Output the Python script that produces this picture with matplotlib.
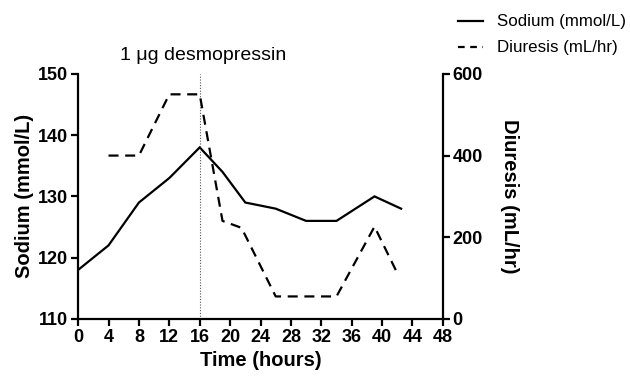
import matplotlib
matplotlib.use("Agg")
import matplotlib.pyplot as plt
from matplotlib.lines import Line2D

plt.rcParams['font.family'] = ['Liberation Sans', 'DejaVu Sans']

# sodium (mmol/L) over time (hours)
sodium_t = [0, 4, 8, 12, 16, 19, 22, 26, 30, 34, 39, 42.5]
sodium = [118, 122, 129, 133, 138, 134, 129, 128, 126, 126, 130, 128]

# diuresis (mL/hr) over time (hours)
diur_t = [4, 8, 12, 16, 19, 21.5, 26, 34, 39, 42]
diuresis = [400, 400, 550, 550, 240, 223, 55, 55, 226, 112]

x_ticks = list(range(0, 49, 4))
na_ticks = [110, 120, 130, 140, 150]
diur_ticks = [0, 200, 400, 600]
desmo_time = 16

fig = plt.figure(figsize=(6.3, 3.81), dpi=100)
ax = fig.add_axes([0.124, 0.163, 0.579, 0.643])
ax2 = ax.twinx()

ax.plot(sodium_t, sodium, color='black', lw=1.6, solid_joinstyle='miter')
ax2.plot(diur_t, diuresis, color='black', lw=1.6, dashes=(4.5, 3))
ax.axvline(desmo_time, color='#555555', lw=0.8, ls=(0, (1, 1.5)))

ax.set_xlim(0, 48)
ax.set_ylim(110, 150)
ax2.set_ylim(0, 600)
ax.set_xticks(x_ticks)
ax.set_yticks(na_ticks)
ax2.set_yticks(diur_ticks)

for a in (ax, ax2):
    a.spines['top'].set_visible(False)
    for s in ('left', 'right', 'bottom'):
        a.spines[s].set_linewidth(1.6)
    a.tick_params(width=1.6, length=5, labelsize=13, pad=2)
    for lab in a.get_xticklabels() + a.get_yticklabels():
        lab.set_fontweight('bold')
ax.spines['right'].set_visible(False)
ax2.spines['left'].set_visible(False)
ax2.spines['bottom'].set_visible(False)

ax.set_xlabel('Time (hours)', fontsize=14.5, fontweight='bold', labelpad=4)
ax.set_ylabel('Sodium (mmol/L)', fontsize=14.5, fontweight='bold', labelpad=3)
ax2.set_ylabel('Diuresis (mL/hr)', fontsize=14.5, fontweight='bold',
               rotation=270, labelpad=26)

ax.text(16.4, 152.3, '1 \u03bcg desmopressin', ha='center', va='baseline',
        fontsize=14)

handles = [Line2D([], [], color='black', lw=1.6),
           Line2D([], [], color='black', lw=1.6, dashes=(3, 2.5))]
fig.legend(handles, ['Sodium (mmol/L)', 'Diuresis (mL/hr)'],
           loc='upper left', bbox_to_anchor=(0.727, 0.962), frameon=False,
           borderaxespad=0, borderpad=0,
           fontsize=12.2, handlelength=1.5, handletextpad=0.8, labelspacing=0.65)

fig.savefig('out.png', dpi=100)
